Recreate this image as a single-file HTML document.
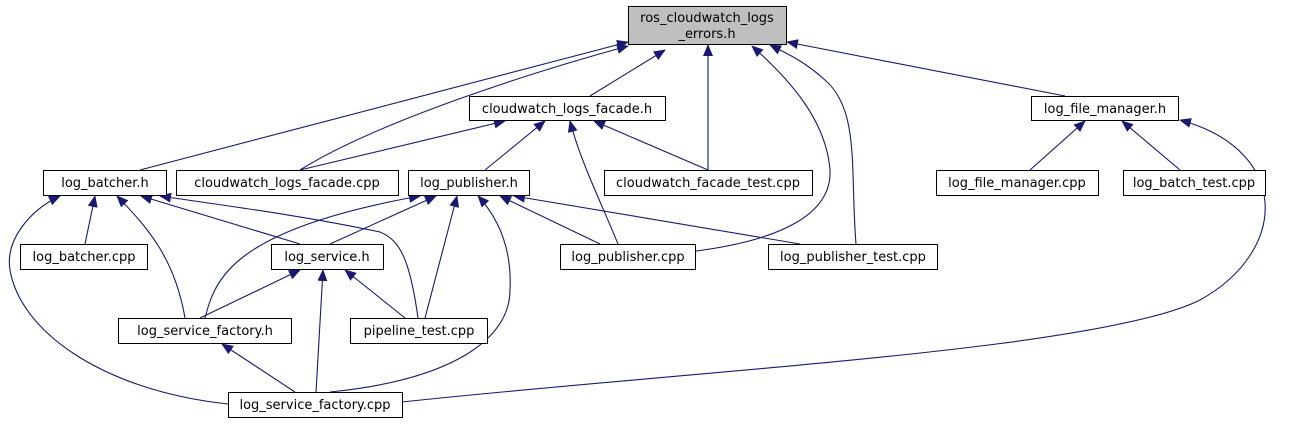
<!DOCTYPE html>
<html><head><meta charset="utf-8"><style>
html,body{margin:0;padding:0;background:#fff;}
svg text{font-family:"DejaVu Sans","Liberation Sans",sans-serif;font-size:13px;fill:#000;}
</style></head><body>
<svg width="1291" height="425" viewBox="0 0 1291 425" xmlns="http://www.w3.org/2000/svg">
<defs><marker id="a" markerWidth="12" markerHeight="10" refX="11" refY="5" orient="auto" markerUnits="userSpaceOnUse"><path d="M0,0 L12,5 L0,10 Z" fill="#191970"/></marker></defs>
<g fill="none" stroke="#191970" stroke-width="1.1" marker-end="url(#a)">
<path d="M140,170 L628,42"/>
<path d="M300,170 C380,120 540,70 628,46"/>
<path d="M590,96 L665,50"/>
<path d="M708,170 L708,45"/>
<path d="M688,252 C790,240 832,210 830,170 C826,120 790,80 752,46"/>
<path d="M856,244 C850,170 860,110 825,80 C805,62 790,55 770,45"/>
<path d="M1065,96 L787,42"/>
<path d="M300,170 L505,121"/>
<path d="M485,170 L545,121"/>
<path d="M618,244 C600,200 580,160 570,121"/>
<path d="M708,170 L594,121"/>
<path d="M1030,170 L1085,121"/>
<path d="M1180,170 L1122,121"/>
<path d="M402,402 C700,370 1100,350 1200,300 C1290,250 1290,150 1180,120"/>
<path d="M85,244 L95,196"/>
<path d="M185,318 C175,260 150,230 117,196"/>
<path d="M300,244 L141,196"/>
<path d="M418,318 C410,260 400,240 380,232 C300,215 220,205 160,196"/>
<path d="M228,404 C100,390 20,330 10,270 C5,240 30,210 60,196"/>
<path d="M205,318 C215,280 230,230 420,196"/>
<path d="M330,244 L436,196"/>
<path d="M425,318 L457,196"/>
<path d="M330,392 C450,380 510,340 510,290 C512,250 500,220 478,196"/>
<path d="M600,244 L500,196"/>
<path d="M800,244 L514,196"/>
<path d="M200,318 L300,270"/>
<path d="M316,392 L323,270"/>
<path d="M405,318 L345,270"/>
<path d="M295,392 L222,344"/>
</g>
<g stroke="#000" stroke-width="1">
<rect x="628.5" y="6.5" width="158" height="38" fill="#bfbfbf"/>
<rect x="469.5" y="96.5" width="196" height="24" fill="#fff"/>
<rect x="1031.5" y="96.5" width="147" height="24" fill="#fff"/>
<rect x="43.5" y="170.5" width="123" height="25" fill="#fff"/>
<rect x="176.5" y="170.5" width="222" height="25" fill="#fff"/>
<rect x="408.5" y="170.5" width="121" height="25" fill="#fff"/>
<rect x="604.5" y="170.5" width="208" height="25" fill="#fff"/>
<rect x="936.5" y="170.5" width="162" height="25" fill="#fff"/>
<rect x="1123.5" y="170.5" width="142" height="25" fill="#fff"/>
<rect x="20.5" y="244.5" width="127" height="25" fill="#fff"/>
<rect x="271.5" y="244.5" width="112" height="25" fill="#fff"/>
<rect x="560.5" y="244.5" width="135" height="25" fill="#fff"/>
<rect x="768.5" y="244.5" width="169" height="25" fill="#fff"/>
<rect x="118.5" y="318.5" width="173" height="25" fill="#fff"/>
<rect x="350.5" y="318.5" width="137" height="25" fill="#fff"/>
<rect x="228.5" y="392.5" width="174" height="25" fill="#fff"/>
</g>
<g text-anchor="middle">
<text x="707" y="22">ros_cloudwatch_logs</text>
<text x="707" y="38">_errors.h</text>
<text x="567" y="113">cloudwatch_logs_facade.h</text>
<text x="1105" y="113">log_file_manager.h</text>
<text x="105" y="187">log_batcher.h</text>
<text x="287" y="187">cloudwatch_logs_facade.cpp</text>
<text x="469" y="187">log_publisher.h</text>
<text x="708" y="187">cloudwatch_facade_test.cpp</text>
<text x="1017" y="187">log_file_manager.cpp</text>
<text x="1194" y="187">log_batch_test.cpp</text>
<text x="84" y="261">log_batcher.cpp</text>
<text x="327" y="261">log_service.h</text>
<text x="628" y="261">log_publisher.cpp</text>
<text x="853" y="261">log_publisher_test.cpp</text>
<text x="205" y="335">log_service_factory.h</text>
<text x="419" y="335">pipeline_test.cpp</text>
<text x="315" y="409">log_service_factory.cpp</text>
</g>
</svg>
</body></html>
